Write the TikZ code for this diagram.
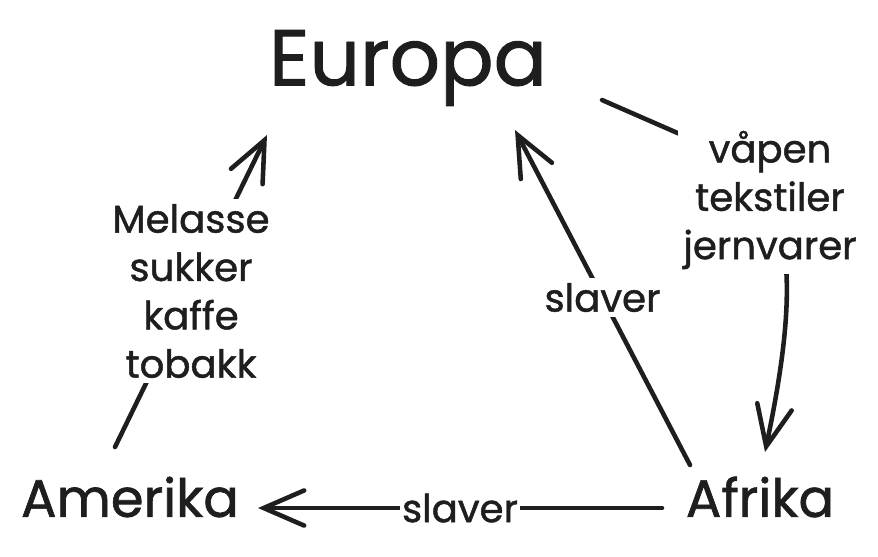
\documentclass[tikz,border=0pt]{standalone}
\usepackage{fontspec}
\setmainfont{Poppins}[FakeBold=1.2]
\usetikzlibrary{arrows.meta,calc}
\definecolor{ink}{HTML}{1E1E1E}

\begin{document}
\begin{tikzpicture}[x=0.02cm,y=-0.02cm]
  \tikzstyle{place}=[text=ink,inner sep=2pt]
  \tikzstyle{lbl}=[text=ink,fill=white,align=center,inner sep=3pt,font=\fontsize{22}{27.5}\selectfont]
  \tikzstyle{arr}=[draw=ink,line width=2.6pt,line cap=round,line join=round,-{Straight Barb[length=23pt,width=20pt,line cap=round]}]
  \useasboundingbox[fill=white] (0,0) rectangle (878,556);
  % Steder
  \node[place,font=\fontsize{45}{54}\selectfont] (eu) at (408,68) {Europa};
  \node[place,font=\fontsize{30}{36}\selectfont] (am) at (130,497) {Amerika};
  \node[place,font=\fontsize{30}{36}\selectfont] (af) at (760,497) {Afrika};
  % Amerika -> Europa
  \draw[arr] ([shift={(-15,-50)}]am.center) -- node[lbl] (raavarer) {Melasse\\sukker\\kaffe\\tobakk} ([shift={(-141,67)}]eu.center);
  % Afrika -> Europa
  \draw[arr] ([shift={(-70,-32)}]af.center) -- node[lbl] (slaverA) {slaver} ([shift={(107,62)}]eu.center);
  % Europa -> Afrika (bak etiketten)
  \draw[arr] ([shift={(194,32)}]eu.center) -- (705,145) .. controls (800,180) and (800,285) .. ([shift={(5,-45)}]af.center);
  \node[lbl] (varer) at (770,200) {våpen\\tekstiler\\jernvarer};
  % Afrika -> Amerika
  \draw[arr] ([shift={(-98,11)}]af.center) -- node[lbl,inner sep=1pt] (slaverB) {slaver} ([shift={(128,11)}]am.center);
\end{tikzpicture}
\end{document}
